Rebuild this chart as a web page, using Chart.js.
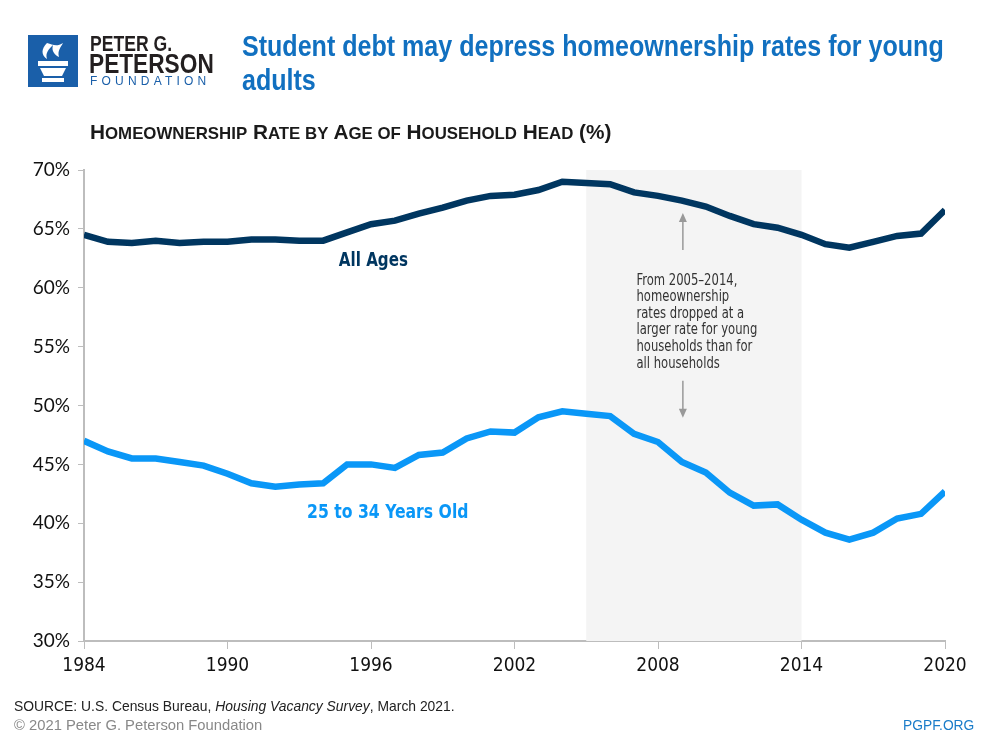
<!DOCTYPE html>
<html>
<head>
<meta charset="utf-8">
<script src="https://cdn.jsdelivr.net/npm/chart.js@4/dist/chart.umd.min.js"></script>
<style>
  body { margin: 0; width: 1000px; height: 750px; background: #fff; overflow: hidden; position: relative;
         font-family: "Liberation Sans", sans-serif; }
  #wrap { position: absolute; left: 0; top: 0; width: 1000px; height: 750px; }
  .abs { position: absolute; white-space: nowrap; transform-origin: 0 0; }
  #logoBox { left: 28px; top: 35px; width: 50px; height: 52px; background: #1a5fa9; }
  #title { left: 242px; top: 29px; font-size: 29px; font-weight: bold; color: #1170c0; line-height: 34px;
           transform: scaleX(0.864); }
  #subtitle { left: 90px; top: 120px; font-size: 21px; font-weight: bold; color: #1a1a1a; transform: scaleX(0.99); }
  #subtitle .sc { font-size: 17px; }
  #source { left: 14px; top: 697px; font-size: 15px; color: #222; transform: scaleX(0.925); }
  #copy { left: 14px; top: 716px; font-size: 15px; color: #888; transform: scaleX(0.985); }
  #site { left: 903px; top: 716px; font-size: 15px; color: #1a7cc9; transform: scaleX(0.92); }
</style>
</head>
<body>
<div id="wrap"><canvas id="myChart" width="1000" height="750"></canvas></div>

<div class="abs" id="logoBox">
  <svg width="50" height="52" viewBox="0 0 50 52">
    <path d="M19 8 C13 14 13 20 19 24 C17 18 21 14 25 10 C23 16 27 20 31 22 C29 16 33 12 35 8 C29 12 25 10 19 8 Z" fill="#fff"/>
    <rect x="10" y="26" width="30" height="5" fill="#fff"/>
    <path d="M12 33 L38 33 L34 41 L16 41 Z" fill="#fff"/>
    <rect x="14" y="43" width="22" height="4" fill="#fff"/>
  </svg>
</div>
<div class="abs" style="left:90px;top:33px;font:bold 22px 'Liberation Sans',sans-serif;color:#231f20;line-height:22px;transform:scaleX(0.8);">PETER G.</div>
<div class="abs" style="left:89px;top:51px;font:bold 27px 'Liberation Sans',sans-serif;color:#231f20;line-height:27px;transform:scaleX(0.84);">PETERSON</div>
<div class="abs" style="left:90px;top:75px;font:12px 'Liberation Sans',sans-serif;color:#1a5fa9;letter-spacing:4.2px;line-height:13px;">FOUNDATION</div>

<div class="abs" id="title">Student debt may depress homeownership rates for young<br>adults</div>
<div class="abs" id="subtitle">H<span class="sc">OMEOWNERSHIP</span> R<span class="sc">ATE BY</span> A<span class="sc">GE OF</span> H<span class="sc">OUSEHOLD</span> H<span class="sc">EAD</span> (%)</div>
<div class="abs" id="source">SOURCE: U.S. Census Bureau, <i>Housing Vacancy Survey</i>, March 2021.</div>
<div class="abs" id="copy">© 2021 Peter G. Peterson Foundation</div>
<div class="abs" id="site">PGPF.ORG</div>

<script>
// data
const years = [1984, 1985, 1986, 1987, 1988, 1989, 1990, 1991, 1992, 1993, 1994, 1995,
  1996, 1997, 1998, 1999, 2000, 2001, 2002, 2003, 2004, 2005, 2006, 2007, 2008, 2009,
  2010, 2011, 2012, 2013, 2014, 2015, 2016, 2017, 2018, 2019, 2020];

const allAges = [64.5, 63.9, 63.8, 64.0, 63.8, 63.9, 63.9, 64.1, 64.1, 64.0, 64.0, 64.7,
  65.4, 65.7, 66.3, 66.8, 67.4, 67.8, 67.9, 68.3, 69.0, 68.9, 68.8, 68.1, 67.8, 67.4,
  66.9, 66.1, 65.4, 65.1, 64.5, 63.7, 63.4, 63.9, 64.4, 64.6, 66.6];

const age25to34 = [47.0, 46.1, 45.5, 45.5, 45.2, 44.9, 44.2, 43.4, 43.1, 43.3, 43.4, 45.0,
  45.0, 44.7, 45.8, 46.0, 47.2, 47.8, 47.7, 49.0, 49.5, 49.3, 49.1, 47.6, 46.9, 45.2,
  44.3, 42.6, 41.5, 41.6, 40.3, 39.2, 38.6, 39.2, 40.4, 40.8, 42.7];

const xTicks = [1984, 1990, 1996, 2002, 2008, 2014, 2020];
const yTicks = [30, 35, 40, 45, 50, 55, 60, 65, 70];
const shadeRange = [2005, 2014];

const noteLines = ['From 2005\u20132014,', 'homeownership', 'rates dropped at a',
  'larger rate for young', 'households than for', 'all households'];

const navy = '#003660';
const brightBlue = '#0a97f7';
const axisGray = '#bdbdbd';
const tickFont = "'DejaVu Sans Condensed', sans-serif";

function toPoints(vals) {
  return years.map((y, i) => ({x: y, y: vals[i]}));
}

// text squeezed horizontally, the original uses a condensed face
function narrowText(ctx, txt, x, y, sx) {
  ctx.save();
  ctx.translate(x, y);
  ctx.scale(sx, 1);
  ctx.fillText(txt, 0, 0);
  ctx.restore();
}

// draws the shaded 2005-2014 band, the series labels and the note
const extras = {
  id: 'extras',
  beforeDatasetsDraw(chart) {
    const {ctx, chartArea, scales: {x}} = chart;
    const x0 = x.getPixelForValue(shadeRange[0]);
    const x1 = x.getPixelForValue(shadeRange[1]);
    ctx.save();
    ctx.fillStyle = '#f4f4f4';
    ctx.fillRect(x0, chartArea.top, x1 - x0, chartArea.bottom - chartArea.top);
    ctx.restore();
  },
  afterDatasetsDraw(chart) {
    const {ctx, scales: {x, y}} = chart;
    ctx.save();
    ctx.textAlign = 'center';
    ctx.textBaseline = 'middle';
    ctx.font = 'bold 20px ' + tickFont;
    ctx.fillStyle = navy;
    narrowText(ctx, 'All Ages', x.getPixelForValue(1996.1), y.getPixelForValue(62.3), 0.84);
    ctx.fillStyle = brightBlue;
    narrowText(ctx, '25 to 34 Years Old', x.getPixelForValue(1996.7), y.getPixelForValue(40.9), 0.87);

    // note text
    ctx.textAlign = 'left';
    ctx.font = '15px ' + tickFont;
    ctx.fillStyle = '#333';
    const tx = x.getPixelForValue(2007.1);
    const ty = y.getPixelForValue(60.6);
    noteLines.forEach((l, i) => narrowText(ctx, l, tx, ty + i * 16.6, 0.86));

    // arrows
    const ax = x.getPixelForValue(2009.04);
    ctx.strokeStyle = '#999';
    ctx.fillStyle = '#999';
    ctx.lineWidth = 1.5;
    const up = [y.getPixelForValue(63.2), y.getPixelForValue(66.35)];
    const down = [y.getPixelForValue(52.1), y.getPixelForValue(48.95)];
    ctx.beginPath();
    ctx.moveTo(ax, up[0]); ctx.lineTo(ax, up[1] + 6);
    ctx.moveTo(ax, down[0]); ctx.lineTo(ax, down[1] - 6);
    ctx.stroke();
    ctx.beginPath();
    ctx.moveTo(ax, up[1]); ctx.lineTo(ax - 4, up[1] + 9); ctx.lineTo(ax + 4, up[1] + 9); ctx.closePath();
    ctx.moveTo(ax, down[1]); ctx.lineTo(ax - 4, down[1] - 9); ctx.lineTo(ax + 4, down[1] - 9); ctx.closePath();
    ctx.fill();
    ctx.restore();
  }
};

const data = {
  datasets: [
    {
      label: 'All Ages',
      data: toPoints(allAges),
      borderColor: navy,
      backgroundColor: navy,
      borderWidth: 6.5,
      pointRadius: 0,
      tension: 0,
    },
    {
      label: '25 to 34 Years Old',
      data: toPoints(age25to34),
      borderColor: brightBlue,
      backgroundColor: brightBlue,
      borderWidth: 6.5,
      pointRadius: 0,
      tension: 0,
    },
  ]
};

const config = {
  type: 'line',
  data: data,
  plugins: [extras],
  options: {
    responsive: false,
    animation: false,
    layout: {padding: {top: 170, right: 55, left: 0, bottom: 0}},
    plugins: {legend: {display: false}, tooltip: {enabled: false}},
    scales: {
      x: {
        type: 'linear',
        min: 1984,
        max: 2020,
        afterBuildTicks: s => { s.ticks = xTicks.map(v => ({value: v})); },
        afterFit: s => { s.height = 109; },
        border: {color: axisGray, width: 2},
        grid: {drawOnChartArea: false, color: axisGray, tickLength: 8, lineWidth: 1},
        ticks: {color: '#111', font: {family: tickFont, size: 19}, padding: 6, maxRotation: 0,
                callback: v => String(v)},
      },
      y: {
        min: 30,
        max: 70,
        afterBuildTicks: s => { s.ticks = yTicks.map(v => ({value: v})); },
        afterFit: s => { s.width = 84; },
        border: {color: axisGray, width: 2},
        grid: {drawOnChartArea: false, color: axisGray, tickLength: 6, lineWidth: 1},
        ticks: {color: '#111', font: {family: 'Lato, sans-serif', size: 19}, padding: 8,
                callback: v => v + '%'},
      }
    }
  }
};

const myChart = new Chart(document.getElementById('myChart'), config);
</script>
</body>
</html>
